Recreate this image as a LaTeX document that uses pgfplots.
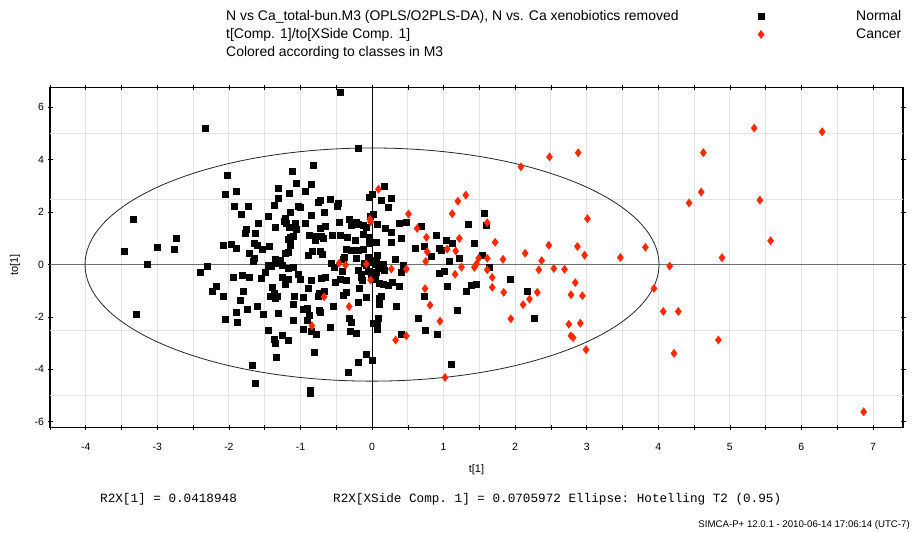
\documentclass[border=0pt]{standalone}
\usepackage{fontspec}
\setmainfont{Liberation Sans}
\setmonofont{Liberation Mono}
\usepackage{pgfplots}
\pgfplotsset{compat=1.18}
\definecolor{cancerred}{RGB}{255,40,0}
\definecolor{gridgray}{RGB}{228,228,228}
\definecolor{zerogray}{RGB}{110,110,110}

% Score values t[1] / to[1] for the two classes
\pgfplotstableread{
x y
-2.34 5.20
-2.03 3.40
-2.05 2.68
-1.90 2.81
-1.93 2.22
-1.73 2.22
-1.83 1.93
-1.59 1.60
-1.45 1.84
-1.76 1.35
-1.77 1.19
-1.64 1.21
-3.34 1.75
-2.74 1.00
-2.76 0.58
-3.01 0.66
-3.47 0.50
-2.08 0.74
-1.97 0.79
-1.90 0.62
-1.65 0.83
-1.61 0.74
-1.54 0.59
-1.44 0.71
-1.72 0.45
-1.65 0.26
-3.15 0.03
-3.30 -1.90
-2.41 -0.30
-2.31 -0.07
-1.94 -0.48
-1.81 -0.40
-1.72 -0.48
-1.66 0.13
-1.55 -0.52
-1.49 -0.30
-1.45 0.00
-2.18 -0.81
-2.23 -1.01
-2.08 -1.19
-1.80 -1.01
-1.84 -1.35
-1.75 -1.69
-1.61 -1.57
-1.90 -1.83
-1.52 -1.90
-2.06 -2.07
-1.88 -2.19
-1.46 -2.50
-1.40 -0.85
-1.42 -1.19
-1.67 -3.85
-1.64 -4.51
-1.12 3.56
-1.06 3.10
-1.31 2.93
-1.16 2.72
-1.31 2.55
-1.37 2.26
-1.04 2.23
-1.00 2.18
-1.14 2.00
-1.22 1.77
-1.23 1.67
-1.20 1.60
-1.08 1.60
-1.35 1.42
-1.16 1.42
-1.06 1.34
-1.15 1.06
-1.17 0.96
-1.14 0.90
-1.11 1.09
-1.14 0.74
-1.17 0.49
-1.22 0.43
-1.35 0.21
-1.28 0.17
-1.31 0.07
-1.26 -0.02
-1.41 -0.06
-1.17 -0.13
-1.11 -0.11
-1.26 -0.49
-1.17 -0.54
-1.22 -0.74
-1.04 -0.36
-1.01 -0.56
-1.37 -1.10
-1.33 -1.19
-1.35 -1.29
-1.09 -1.19
-1.11 -1.52
-1.31 -1.86
-1.11 -2.12
-0.97 -2.46
-1.37 -2.83
-1.36 -2.98
-1.26 -2.70
-1.18 -2.87
-1.34 -3.54
-0.82 3.79
-0.85 3.06
-0.93 2.81
-0.73 2.46
-0.75 2.37
-0.59 2.51
-0.48 2.36
-0.49 2.23
-0.67 2.00
-0.85 1.88
-0.93 1.60
-0.66 1.48
-0.72 1.40
-0.46 1.63
-0.32 1.74
-0.29 1.50
-0.22 1.63
-0.19 1.55
-0.13 1.18
-0.08 1.42
-0.88 1.11
-0.78 1.10
-0.79 0.92
-0.71 1.08
-0.69 1.00
-0.56 1.11
-0.44 1.11
-0.35 1.04
-0.24 0.92
-0.04 1.04
-0.04 0.81
0.05 0.85
-0.12 0.60
-0.36 0.59
-0.30 0.55
-0.20 0.55
-0.84 0.52
-0.90 0.35
-0.73 0.50
-0.70 0.41
-0.39 0.27
-0.23 0.24
-0.06 0.30
-0.03 0.17
0.07 0.35
0.06 0.16
0.32 0.20
-0.57 0.05
-0.53 -0.11
-0.41 0.20
-0.11 0.05
-0.08 -0.03
0.00 0.11
0.04 0.02
0.09 -0.03
0.15 0.02
0.43 0.00
-0.19 -0.21
-0.15 -0.37
-0.06 -0.24
-0.02 -0.37
0.06 -0.29
0.12 -0.15
0.17 -0.21
0.41 -0.30
-0.42 -0.24
-0.66 -0.47
-0.71 -0.50
-0.44 -0.54
-0.36 -0.59
-0.16 -0.47
-0.14 -0.58
-0.52 -0.68
-0.85 -0.59
-0.89 -0.90
0.04 -0.57
0.10 -0.72
0.16 -0.74
0.22 -0.77
0.28 -0.66
0.38 -0.83
-0.74 -1.09
-0.76 -1.21
-0.67 -1.02
-0.18 -0.90
-0.40 -1.15
-0.37 -1.04
-0.08 -1.23
0.10 -1.27
0.13 -1.22
0.10 -1.51
-0.19 -1.44
-0.97 -1.24
-0.54 -1.60
-0.96 -1.69
-0.91 -1.67
-0.74 -1.74
-0.73 -1.82
-0.88 -1.92
-0.91 -2.12
0.34 -1.60
-0.32 -2.05
-0.29 -2.19
-0.58 -2.37
-0.85 -2.54
-0.78 -2.64
-0.31 -2.53
-0.23 -2.60
0.01 -2.23
0.07 -2.24
0.08 -2.05
0.07 -2.46
0.41 -2.66
0.65 -2.03
0.74 -2.49
-0.81 -3.35
-0.08 -3.42
-0.03 1.85
0.02 1.93
0.00 2.68
-0.04 2.56
0.12 2.45
0.17 2.98
0.23 2.18
0.27 2.55
0.07 1.56
0.18 1.38
0.27 1.25
0.41 1.02
0.27 0.87
0.38 1.60
0.48 1.63
0.60 0.62
0.69 1.46
0.72 0.72
0.73 -1.19
-0.13 1.52
-0.45 6.60
-0.20 4.45
-0.87 -4.78
-0.86 -4.90
-0.34 -4.09
-0.19 -3.72
0.00 -3.65
1.57 1.97
1.34 1.55
1.59 1.50
0.89 1.13
1.04 0.95
1.12 0.83
1.42 0.83
0.93 0.64
0.97 0.54
0.83 0.32
1.22 0.26
1.54 0.36
1.07 0.13
0.94 -0.34
1.01 -0.25
1.05 -0.82
1.32 -1.01
1.38 -0.78
1.45 -0.73
1.63 -0.11
1.93 -0.56
2.16 -1.01
2.27 -2.03
1.19 -1.74
0.91 -2.66
1.11 -3.80
}\normaltable

\pgfplotstableread{
x y
0.09 2.88
-0.03 1.73
-0.02 1.63
0.51 1.93
0.63 1.38
0.76 1.04
0.77 0.49
0.75 0.12
-0.46 0.05
-0.37 -0.02
-0.08 0.02
0.27 -0.17
0.48 -0.17
-0.02 -0.59
-0.67 -1.23
-0.32 -1.60
0.74 -0.92
-0.84 -2.34
0.33 -2.88
0.48 -2.72
2.48 4.11
2.88 4.27
2.08 3.73
1.31 2.65
1.20 2.42
1.12 1.94
1.61 1.60
3.01 1.75
1.22 1.00
1.72 0.85
2.47 0.74
2.87 0.69
2.14 0.43
2.97 0.36
3.47 0.27
1.05 0.59
1.17 0.52
1.49 0.24
1.61 0.24
1.83 0.20
2.37 0.15
0.81 -1.55
0.95 -2.16
1.02 -4.31
1.16 -0.37
1.25 -0.10
1.43 -0.11
1.46 0.02
1.61 -0.20
1.68 -0.49
1.68 -0.87
1.84 -1.06
1.94 -2.07
2.11 -1.53
2.20 -1.32
2.31 -1.06
2.33 -0.20
2.54 -0.15
2.69 -0.18
2.84 -0.69
2.78 -1.15
2.94 -1.19
2.75 -2.28
2.91 -2.24
2.78 -2.72
2.81 -2.79
2.99 -3.25
5.34 5.21
6.29 5.07
4.63 4.27
4.60 2.77
4.43 2.35
5.42 2.46
5.57 0.91
3.82 0.66
4.89 0.26
4.16 -0.06
3.94 -0.91
4.07 -1.79
4.28 -1.79
4.84 -2.88
4.22 -3.39
6.87 -5.62
}\cancertable

\begin{document}
\begin{tikzpicture}[x=1bp,y=1bp]
\useasboundingbox (0,0) rectangle (916,533);
\begin{axis}[
  at={(50bp,105.5bp)}, anchor=south west,
  scale only axis, width=853bp, height=340bp,
  xmin=-4.5, xmax=7.42, ymin=-6.22, ymax=6.76,
  xtick={-4,...,7},
  minor xtick={-4.5,-3.5,...,7.5},
  ytick={-6,-4,...,6},
  extra y ticks={-5,-2.5,2.5,5},
  extra y tick labels={},
  extra y tick style={ymajorgrids=true, major tick length=0pt},
  xmajorgrids, xminorgrids, ymajorgrids=false,
  grid style={gridgray, line width=0.9bp},
  minor grid style={gridgray, line width=0.9bp},
  tick align=center,
  major tick length=5bp, minor tick length=5bp,
  tick style={black, line width=0.6bp},
  axis line style={black, line width=1.1bp},
  /pgf/number format/assume math mode=true,
  tick label style={font=\fontsize{10.5}{12}\selectfont},
  xticklabel style={yshift=-10bp},
  xlabel={t[1]},
  ylabel={to[1]},
  label style={font=\fontsize{11}{13}\selectfont},
  xlabel style={at={(axis description cs:0.5,-0.125)}, anchor=center},
  ylabel style={at={(axis description cs:-0.041,0.478)}, anchor=center},
  legend columns=1,
  legend style={at={(0.826,1.238)}, anchor=north west, draw=none, fill=none,
    font=\fontsize{14}{16}\selectfont, column sep=90bp, row sep=2.5bp},
  legend cell align=left,
]
% Reference lines and the Hotelling T2 (0.95) ellipse
\draw[zerogray, line width=1.6bp] (axis cs:-4.5,0) -- (axis cs:7.42,0);
\draw[black, line width=0.9bp] (axis cs:0,-6.22) -- (axis cs:0,6.76);
\draw[black!85, line width=0.8bp] (axis cs:0,0) ellipse [x radius=4.01, y radius=4.45];

\addplot[only marks, mark=square*, mark size=3.0bp,
  mark options={draw=black, fill=black, line width=0.1bp}]
  table[x=x, y=y] {\normaltable};
\addlegendentry{Normal}
\addplot[only marks, mark=diamond*, mark size=4.3bp,
  mark options={draw=cancerred, fill=cancerred, line width=0.1bp}]
  table[x=x, y=y] {\cancertable};
\addlegendentry{Cancer}
\end{axis}

% Titles
\begin{scope}[every node/.style={inner sep=0pt, anchor=base west, font=\fontsize{14}{16}\selectfont}]
\node at (226,512) {N vs Ca\_total-bun.M3 (OPLS/O2PLS-DA), N vs. Ca xenobiotics removed};
\node at (226,494) {t[Comp. 1]/to[XSide Comp. 1]};
\node at (226,476) {Colored according to classes in M3};
\end{scope}

% Model summary and footer
\node[inner sep=0pt, anchor=base west, font=\ttfamily\fontsize{12.7}{14}\selectfont] at (100,30) {R2X[1] = 0.0418948};
\node[inner sep=0pt, anchor=base west, font=\ttfamily\fontsize{12.7}{14}\selectfont] at (333,30) {R2X[XSide Comp. 1] = 0.0705972 Ellipse: Hotelling T2 (0.95)};
\node[inner sep=0pt, anchor=base east, font=\fontsize{9.7}{11}\selectfont] at (910,5) {SIMCA-P+ 12.0.1 - 2010-06-14 17:06:14 (UTC-7)};
\end{tikzpicture}
\end{document}
